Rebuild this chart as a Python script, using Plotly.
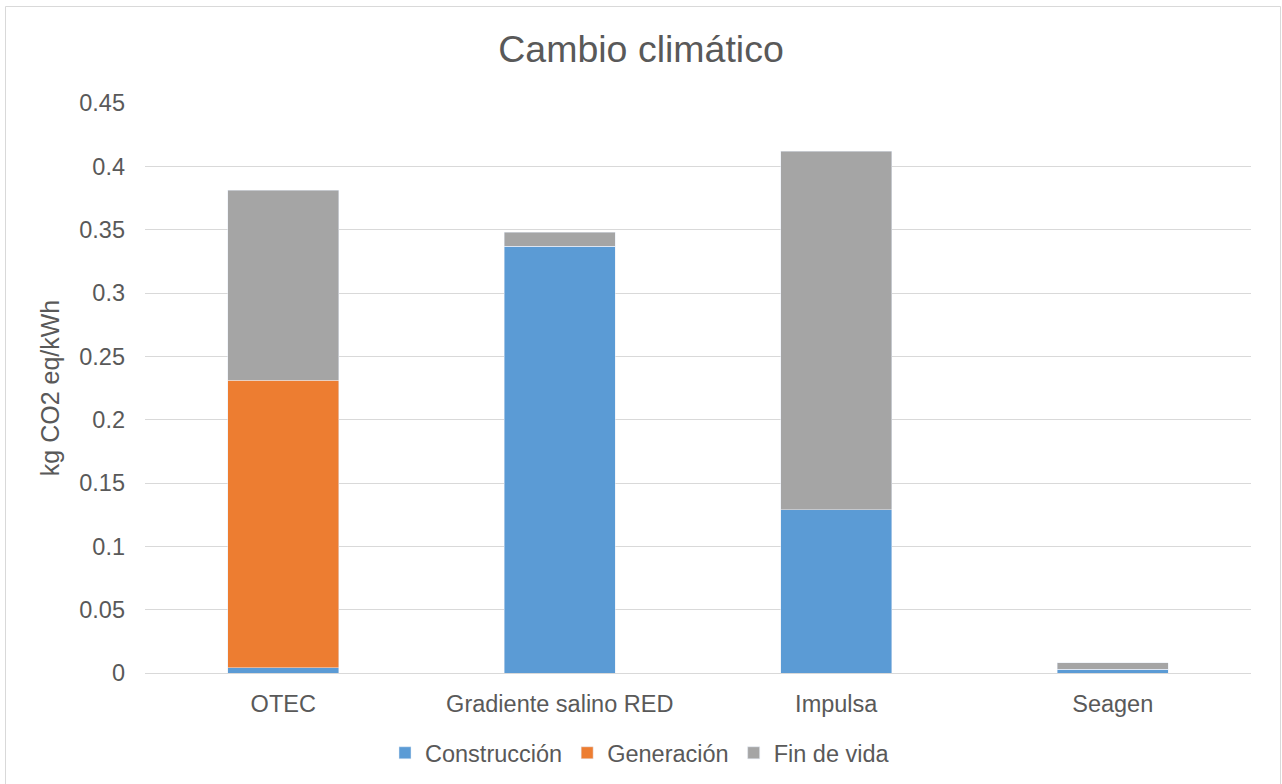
import plotly.graph_objects as go

categories = ["OTEC", "Gradiente salino RED", "Impulsa", "Seagen"]
construccion = [0.004, 0.337, 0.129, 0.003]
generacion = [0.227, 0.0, 0.0, 0.0]
fin_de_vida = [0.150, 0.011, 0.283, 0.005]
y_ticks = [0, 0.05, 0.1, 0.15, 0.2, 0.25, 0.3, 0.35, 0.4, 0.45]
y_tick_labels = ["0", "0.05", "0.1", "0.15", "0.2", "0.25", "0.3", "0.35", "0.4", "0.45"]

FONT = "Liberation Sans, Arial, sans-serif"
TEXT = "#595959"
FS = 23.5

fig = go.Figure()
fig.add_trace(go.Bar(name="Construcción", x=categories, y=construccion, marker_color="#5B9BD5"))
fig.add_trace(go.Bar(name="Generación", x=categories, y=generacion, marker_color="#ED7D31"))
fig.add_trace(go.Bar(name="Fin de vida", x=categories, y=fin_de_vida, marker_color="#A5A5A5"))

# chart outline (bottom edge runs past the page)
L, R, T, B = 145, 31, 103, 111
W, H = 1282, 784
pw, ph = W - L - R, H - T - B
def px_x(p):
    return (p - L) / pw
def px_y(p):
    return (H - B - p) / ph

fig.add_shape(type="rect", xref="paper", yref="paper",
              x0=px_x(5.5), x1=px_x(1280.5), y0=px_y(800), y1=px_y(6.5),
              line=dict(color="#D9D9D9", width=1), fillcolor="rgba(0,0,0,0)", layer="below")

fig.update_layout(
    barmode="stack",
    bargap=0.6,
    width=W, height=H,
    margin=dict(l=L, r=R, t=T, b=B, autoexpand=False),
    paper_bgcolor="white",
    plot_bgcolor="white",
    font=dict(family=FONT, color=TEXT, size=FS),
    title=dict(text="Cambio climático", x=0.5, xanchor="center", y=1 - 49 / H, yanchor="middle",
               font=dict(size=37.5, color=TEXT, family=FONT)),
    xaxis=dict(showgrid=False, showline=True, linecolor="#D9D9D9", linewidth=1,
               ticks="", tickfont=dict(size=FS, color=TEXT), automargin=False,
               ticklabelstandoff=10),
    yaxis=dict(range=[0, 0.45], tickvals=y_ticks, ticktext=y_tick_labels,
               showgrid=True, gridcolor="#D9D9D9", gridwidth=1, zeroline=False,
               showline=False, ticks="", ticklen=0, tickfont=dict(size=FS, color=TEXT),
               automargin=False, ticklabelstandoff=19,
               title=dict(text="kg CO2 eq/kWh", font=dict(size=25, color=TEXT), standoff=12)),
    legend=dict(orientation="h", x=px_x(640), xanchor="center", y=px_y(753), yanchor="middle",
                font=dict(size=FS, color=TEXT), traceorder="normal", itemwidth=30),
)

fig.write_html("out.html")
